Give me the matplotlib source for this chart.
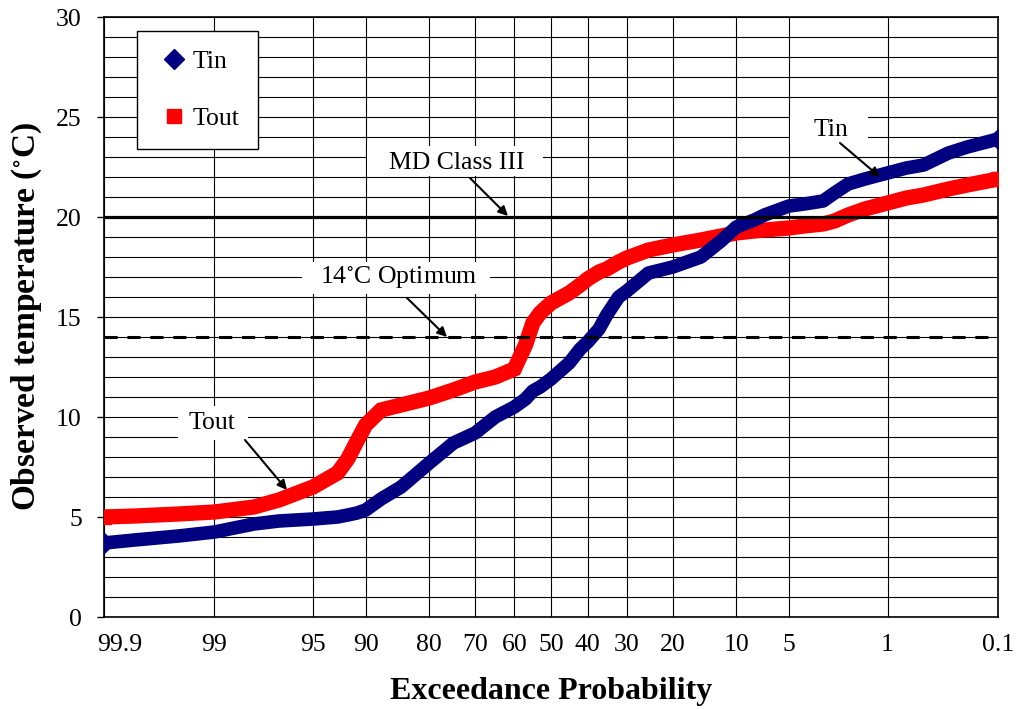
import numpy as np
import matplotlib
matplotlib.use('Agg')
import matplotlib.pyplot as plt
from matplotlib.lines import Line2D
from matplotlib.patches import Rectangle
from matplotlib.transforms import ScaledTranslation
from statistics import NormalDist

# ---------------- data ----------------
exceed = [99.9, 99.8, 99.5, 99, 98, 97, 95, 93, 92, 91, 90, 88, 85, 80, 75, 70,
          65, 60, 57, 55, 53, 50, 45, 42, 40, 37, 35, 32, 30, 25, 20, 15, 12, 10,
          8, 7, 5, 4, 3, 2.5, 2, 1.5, 1, 0.7, 0.5, 0.3, 0.2, 0.1]
tin = [3.7, 3.85, 4.05, 4.25, 4.65, 4.8, 4.9, 5.0, 5.1, 5.2, 5.35, 5.9, 6.5, 7.7,
       8.7, 9.2, 10.0, 10.5, 10.9, 11.3, 11.5, 11.9, 12.7, 13.4, 13.75, 14.4, 15.1,
       16.0, 16.3, 17.2, 17.5, 18.0, 18.8, 19.5, 19.85, 20.1, 20.55, 20.65, 20.8,
       21.2, 21.65, 21.9, 22.2, 22.45, 22.6, 23.2, 23.5, 23.9]
tout = [5.0, 5.05, 5.15, 5.25, 5.5, 5.85, 6.5, 7.2, 7.9, 8.8, 9.6, 10.35, 10.6,
        10.95, 11.35, 11.75, 12.0, 12.4, 13.6, 14.7, 15.2, 15.7, 16.2, 16.6, 16.9,
        17.25, 17.4, 17.75, 17.95, 18.35, 18.6, 18.85, 19.05, 19.2, 19.3, 19.35,
        19.45, 19.55, 19.65, 19.8, 20.1, 20.4, 20.7, 20.95, 21.1, 21.4, 21.6, 21.9]
xtick_vals = [99.9, 99, 95, 90, 80, 70, 60, 50, 40, 30, 20, 10, 5, 1, 0.1]
xtick_labels = ['99.9', '99', '95', '90', '80', '70', '60', '50', '40', '30',
                '20', '10', '5', '1', '0.1']
md_class_iii = 20
optimum = 14

_nd = NormalDist()


def probit(p):
    """Normal-probability axis position of an exceedance percentage."""
    return np.array([_nd.inv_cdf(1 - v / 100.0) for v in np.atleast_1d(p)])


plt.rcParams['font.family'] = ['Liberation Serif', 'DejaVu Serif']
plt.rcParams['mathtext.fontset'] = 'stix'

W, H = 1025, 709
fig = plt.figure(figsize=(W / 100, H / 100), dpi=100)
L, R, T, B = 104, 998, 17, 617
ax = fig.add_axes([L / W, 1 - B / H, (R - L) / W, (B - T) / H])

NAVY = '#000080'
RED = '#FF0000'
FS = 18.5

# series
ends = [0, len(exceed) - 1]
ax.plot(probit(exceed), tout, color=RED, lw=11, marker='s', ms=10.5,
        markevery=ends, solid_capstyle='butt', solid_joinstyle='miter', zorder=3)
ax.plot(probit(exceed), tin, color=NAVY, lw=9.8, marker='D', ms=10,
        markevery=ends, solid_capstyle='butt', solid_joinstyle='round', zorder=3.1)

# reference lines
ax.axhline(md_class_iii, color='black', lw=2.3, zorder=4)
ax.axhline(optimum, color='black', lw=2.2, ls=(0, (4.3, 3.2)), zorder=4)

# axes
xt = probit(xtick_vals)
ax.set_xlim(xt[0], xt[-1])
ax.set_ylim(0, 30)
ax.set_xticks(xt)
ax.set_xticklabels(xtick_labels, fontsize=FS)
ax.set_yticks(np.arange(0, 31, 5))
ax.set_yticks(np.arange(0, 31, 1), minor=True)
ax.tick_params(axis='y', which='major', length=5, width=1, direction='out',
               labelsize=FS, pad=11)
ax.tick_params(axis='y', which='minor', length=0)
ax.tick_params(axis='x', length=0, pad=12.5)
ax.grid(True, which='both', axis='y', color='black', lw=0.8, zorder=1)
ax.grid(True, which='major', axis='x', color='black', lw=0.8, zorder=1)
ax.set_axisbelow(True)
for s in ax.spines.values():
    s.set_linewidth(1.2)

lbl0 = ax.get_xticklabels()[0]
lbl0.set_transform(lbl0.get_transform() + ScaledTranslation(0.16, 0, fig.dpi_scale_trans))

ax.set_xlabel('Exceedance Probability', fontsize=23, fontweight='bold')
ax.xaxis.set_label_coords(0.5, -0.1)
ax.set_ylabel('Observed temperature ($^{\\circ}$C)', fontsize=24, fontweight='bold')
ax.yaxis.set_label_coords(-0.067, 0.5)


def fx(px):
    return (px - L) / (R - L)


def fy(py):
    return (B - py) / (B - T)


def wbox(x0, y0, x1, y1):
    ax.add_patch(Rectangle((fx(x0), fy(y1)), fx(x1) - fx(x0), fy(y0) - fy(y1),
                           transform=ax.transAxes, facecolor='white',
                           edgecolor='none', zorder=5))


def note(text, cx, cy, box, start, tip):
    wbox(*box)
    ax.text(fx(cx), fy(cy), text, transform=ax.transAxes, ha='center',
            va='center', fontsize=FS, zorder=6)
    ax.annotate('', xy=(fx(tip[0]), fy(tip[1])), xycoords='axes fraction',
                xytext=(fx(start[0]), fy(start[1])), textcoords='axes fraction',
                arrowprops=dict(arrowstyle='-|>', color='black', lw=1.5,
                                mutation_scale=14, shrinkA=0, shrinkB=0),
                zorder=7)


note('MD Class III', 457, 163, (367, 146, 543, 176), (470, 178), (508, 216))
note('14$^{\\circ}$C Optimum', 399, 277, (302, 262, 490, 294), (407, 298), (447, 337))
note('Tin', 831, 130, (790, 112, 868, 145), (840, 143), (880, 177))
note('Tout', 212, 423, (178, 406, 248, 440), (245, 440), (287, 490))

handles = [Line2D([], [], ls='none', marker='D', color=NAVY, ms=10),
           Line2D([], [], ls='none', marker='s', color=RED, ms=10)]
leg = ax.legend(handles, ['Tin', 'Tout'], loc='upper left',
                bbox_to_anchor=(fx(137), fy(31)), borderaxespad=0,
                fancybox=False, edgecolor='black', framealpha=1, fontsize=FS,
                labelspacing=1.3, borderpad=0.75, handlelength=1.4,
                handletextpad=0.0, numpoints=1)
leg.get_frame().set_linewidth(1.0)
leg.set_zorder(10)

fig.savefig('out.png', dpi=100, facecolor='white')
